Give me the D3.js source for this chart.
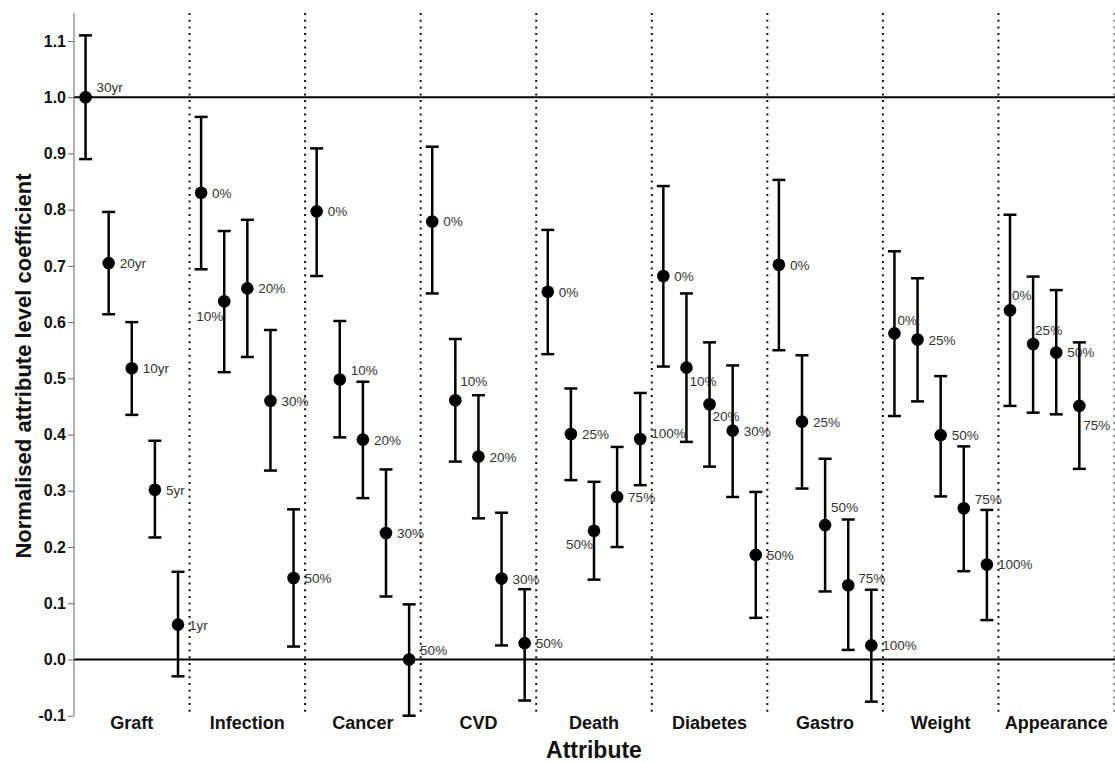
<!DOCTYPE html>
<html lang="en">
<head>
<meta charset="UTF-8">
<title>Normalised attribute level coefficients</title>
<script src="https://cdn.jsdelivr.net/npm/d3@7/dist/d3.min.js"></script>
<style>
    body { margin: 0; background: #fff; }
    svg text { font-family: "Liberation Sans", Arial, Helvetica, sans-serif; }
</style>
</head>
<body>
<svg id="main" width="1115" height="763"></svg>
<script>
    const attributes = ['Graft', 'Infection', 'Cancer', 'CVD', 'Death', 'Diabetes', 'Gastro', 'Weight', 'Appearance'];

    const levelLabels = [
        ['30yr', '20yr', '10yr', '5yr', '1yr'],
        ['0%', '10%', '20%', '30%', '50%'],
        ['0%', '10%', '20%', '30%', '50%'],
        ['0%', '10%', '20%', '30%', '50%'],
        ['0%', '25%', '50%', '75%', '100%'],
        ['0%', '10%', '20%', '30%', '50%'],
        ['0%', '25%', '50%', '75%', '100%'],
        ['0%', '25%', '50%', '75%', '100%'],
        ['0%', '25%', '50%', '75%']
    ];

    const coefficients = [
        [1.000, 0.705, 0.518, 0.302, 0.062],
        [0.830, 0.637, 0.660, 0.460, 0.145],
        [0.797, 0.498, 0.391, 0.225, 0.000],
        [0.779, 0.461, 0.361, 0.144, 0.029],
        [0.654, 0.401, 0.229, 0.289, 0.392],
        [0.682, 0.519, 0.454, 0.407, 0.186],
        [0.702, 0.423, 0.239, 0.132, 0.025],
        [0.580, 0.569, 0.399, 0.269, 0.169],
        [0.621, 0.561, 0.546, 0.451]
    ];

    const lowerCI = [
        [0.890, 0.614, 0.435, 0.217, -0.030],
        [0.694, 0.511, 0.538, 0.336, 0.023],
        [0.682, 0.395, 0.287, 0.112, -0.100],
        [0.651, 0.352, 0.251, 0.025, -0.073],
        [0.543, 0.319, 0.142, 0.200, 0.310],
        [0.521, 0.387, 0.343, 0.289, 0.074],
        [0.550, 0.304, 0.121, 0.017, -0.075],
        [0.433, 0.459, 0.290, 0.157, 0.070],
        [0.451, 0.439, 0.436, 0.339]
    ];

    const upperCI = [
        [1.110, 0.796, 0.600, 0.389, 0.156],
        [0.965, 0.762, 0.782, 0.586, 0.267],
        [0.909, 0.602, 0.494, 0.338, 0.098],
        [0.912, 0.570, 0.470, 0.261, 0.125],
        [0.764, 0.482, 0.316, 0.378, 0.474],
        [0.842, 0.651, 0.564, 0.523, 0.298],
        [0.853, 0.541, 0.357, 0.249, 0.124],
        [0.726, 0.678, 0.504, 0.379, 0.266],
        [0.791, 0.681, 0.657, 0.564]
    ];

    const yTicks = [-0.1, 0.0, 0.1, 0.2, 0.3, 0.4, 0.5, 0.6, 0.7, 0.8, 0.9, 1.0, 1.1];
    const referenceLines = [0, 1];

    // label placement exceptions: [dx, dy (baseline), anchor]
    const labelNudge = {
        'Graft|30yr': [11, -5, 'start'],
        'Infection|10%': [-1, 20, 'end'],
        'Cancer|10%': [11, -4, 'start'],
        'Cancer|50%': [11, -4, 'start'],
        'CVD|10%': [5, -14, 'start'],
        'Death|50%': [-1, 18, 'end'],
        'Death|100%': [11, -1, 'start'],
        'Diabetes|10%': [3, 18, 'start'],
        'Diabetes|20%': [3, 17, 'start'],
        'Gastro|50%': [6, -13, 'start'],
        'Gastro|75%': [10, -2, 'start'],
        'Weight|0%': [3, -8, 'start'],
        'Weight|75%': [11, -4, 'start'],
        'Appearance|0%': [2, -10, 'start'],
        'Appearance|25%': [2, -9, 'start'],
        'Appearance|75%': [4, 24, 'start']
    };

    let svg = d3.select('svg#main');
    let plotLeft = 74, plotRight = 1114, plotTop = 13;

    let xScale = d3.scaleBand()
        .domain(attributes)
        .range([plotLeft, plotRight]);
    let slot = d3.scalePoint()
        .domain(d3.range(5))
        .range([0, xScale.bandwidth()])
        .padding(0.5);
    let yScale = d3.scaleLinear()
        .domain([-0.1, 1.1])
        .range([715.7, 41]);

    // dotted separators between attributes
    let seps = attributes.slice(1).map(a => xScale(a)).concat([plotRight]);
    svg.append('g').selectAll('line')
        .data(seps)
        .enter().append('line')
        .attr('x1', d => d).attr('x2', d => d)
        .attr('y1', plotTop).attr('y2', yScale(-0.1) - 2)
        .attr('stroke', '#111')
        .attr('stroke-width', 2)
        .attr('stroke-dasharray', '2,4.7')
        .attr('opacity', (d, i) => i === seps.length - 1 ? 0.45 : 1);

    // reference lines at 0 and 1
    svg.append('g').selectAll('line')
        .data(referenceLines)
        .enter().append('line')
        .attr('x1', plotLeft).attr('x2', 1115)
        .attr('y1', d => yScale(d)).attr('y2', d => yScale(d))
        .attr('stroke', '#000')
        .attr('stroke-width', 2);

    // y axis
    let yAxis = svg.append('g')
        .attr('transform', 'translate(' + plotLeft + ',0)')
        .call(d3.axisLeft(yScale).tickValues(yTicks)
            .tickFormat(d => d.toFixed(1)).tickSize(6).tickPadding(2));
    yAxis.select('.domain').remove();
    yAxis.selectAll('.tick line').attr('stroke', '#666');
    yAxis.selectAll('.tick text')
        .attr('font-size', 16).attr('font-weight', 'bold').attr('fill', '#111')
        .style('font-family', '"Liberation Sans", Arial, sans-serif');
    svg.append('line')
        .attr('x1', plotLeft).attr('x2', plotLeft)
        .attr('y1', plotTop).attr('y2', yScale(-0.1))
        .attr('stroke', '#666').attr('stroke-width', 1);

    // points with error bars
    let rows = [];
    attributes.forEach((a, i) => {
        levelLabels[i].forEach((lv, j) => {
            rows.push({attr: a, level: lv, idx: j,
                value: coefficients[i][j], lo: lowerCI[i][j], hi: upperCI[i][j]});
        });
    });

    let pts = svg.append('g').selectAll('g')
        .data(rows)
        .enter().append('g')
        .attr('transform', d => 'translate(' + (xScale(d.attr) + slot(d.idx)) + ',0)');

    pts.append('text')
        .text(d => d.level)
        .attr('x', d => (labelNudge[d.attr + '|' + d.level] || [11])[0])
        .attr('y', d => yScale(d.value) + (labelNudge[d.attr + '|' + d.level] || [0, 5])[1])
        .attr('text-anchor', d => (labelNudge[d.attr + '|' + d.level] || [0, 0, 'start'])[2])
        .attr('font-size', 13.5)
        .attr('fill', '#333');

    pts.append('line')
        .attr('x1', 0).attr('x2', 0)
        .attr('y1', d => yScale(d.lo)).attr('y2', d => yScale(d.hi))
        .attr('stroke', '#000').attr('stroke-width', 2.5);
    ['lo', 'hi'].forEach(k => {
        pts.append('line')
            .attr('x1', -6.5).attr('x2', 6.5)
            .attr('y1', d => yScale(d[k])).attr('y2', d => yScale(d[k]))
            .attr('stroke', '#000').attr('stroke-width', 2.5);
    });
    pts.append('circle')
        .attr('cx', 0)
        .attr('cy', d => yScale(d.value))
        .attr('r', 6.3)
        .attr('fill', '#000');

    // attribute names
    svg.append('g').selectAll('text')
        .data(attributes)
        .enter().append('text')
        .text(d => d)
        .attr('x', d => xScale(d) + xScale.bandwidth() / 2)
        .attr('y', 729)
        .attr('text-anchor', 'middle')
        .attr('font-size', 18)
        .attr('font-weight', 'bold')
        .attr('fill', '#111');

    svg.append('text')
        .text('Attribute')
        .attr('x', (plotLeft + plotRight) / 2)
        .attr('y', 758)
        .attr('text-anchor', 'middle')
        .attr('font-size', 23)
        .attr('font-weight', 'bold')
        .attr('fill', '#111');

    svg.append('text')
        .text('Normalised attribute level coefficient')
        .attr('transform', 'translate(31,366) rotate(-90)')
        .attr('text-anchor', 'middle')
        .attr('font-size', 22)
        .attr('font-weight', 'bold')
        .attr('fill', '#111');
</script>
</body>
</html>
